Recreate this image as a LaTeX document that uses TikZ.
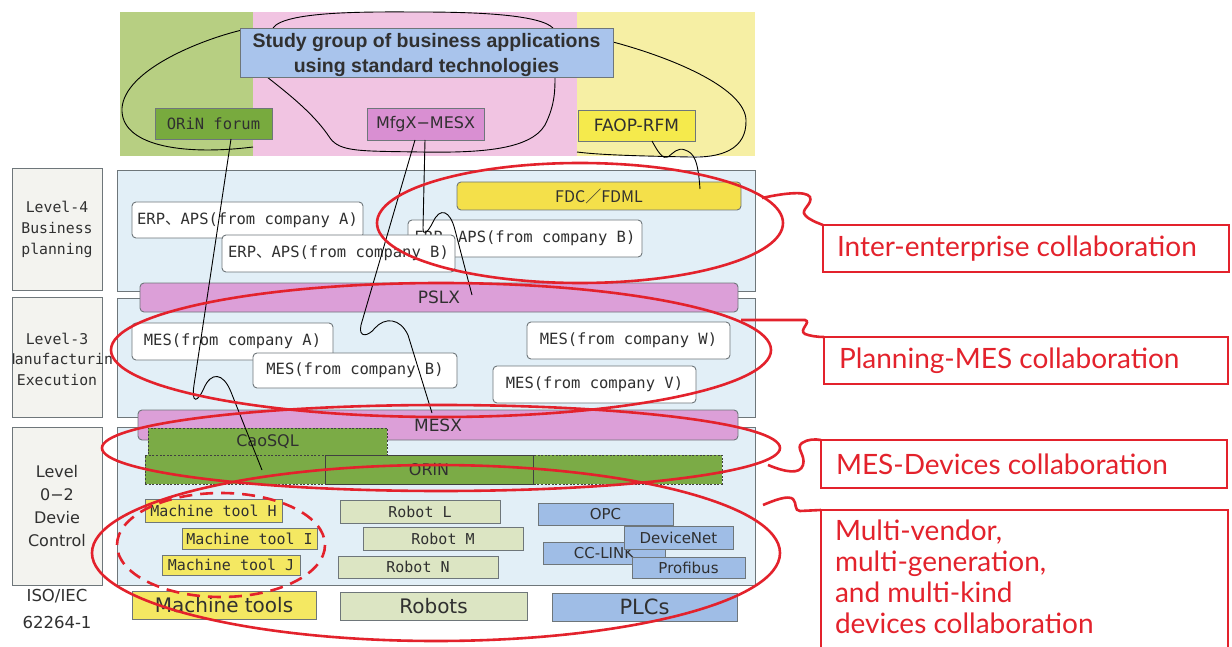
\documentclass[tikz,border=0pt]{standalone}
\usepackage{fontspec}
\setmainfont{DejaVu Sans}
\newfontfamily\gothic{DejaVu Sans}
\newfontfamily\monog{DejaVu Sans Mono}
\newfontfamily\cjk{Noto Sans CJK JP}
\newfontfamily\titlefont{Liberation Sans}
\newfontfamily\notefont{Lato}
\usetikzlibrary{calc}
\newcommand{\setfs}[1]{\fontsize{#1}{#1}\selectfont}

\definecolor{bggreen}{HTML}{B7CF82}
\definecolor{bgpink}{HTML}{F1C4E2}
\definecolor{bgyellow}{HTML}{F6EFA4}
\definecolor{studyblue}{HTML}{A9C4EC}
\definecolor{forumgreen}{HTML}{78AA3E}
\definecolor{mfgpink}{HTML}{D98FD2}
\definecolor{faopyellow}{HTML}{F5EA4C}
\definecolor{panelblue}{HTML}{E2EFF7}
\definecolor{levelgray}{HTML}{F3F3EF}
\definecolor{edgegray}{HTML}{6E767A}
\definecolor{barpink}{HTML}{DC9FD8}
\definecolor{fdcyellow}{HTML}{F4E04A}
\definecolor{oringreen}{HTML}{7BAB46}
\definecolor{toolyellow}{HTML}{F4E862}
\definecolor{robotgreen}{HTML}{DCE5C3}
\definecolor{plcblue}{HTML}{9FBDE6}
\definecolor{txt}{HTML}{303030}
\definecolor{markred}{HTML}{E3222C}

\begin{document}
\begin{tikzpicture}[x=1pt,y=-1pt,
  every node/.style={inner sep=0pt, outer sep=0pt, text=txt},
  plainbox/.style={draw=edgegray, line width=0.9pt},
  roundbox/.style={draw=edgegray, line width=0.9pt, rounded corners=4pt},
  levelbox/.style={plainbox, fill=levelgray},
  panel/.style={plainbox, fill=panelblue},
  appbox/.style={roundbox, fill=white, font=\monog\setfs{15.5}},
  barbox/.style={roundbox, fill=barpink, font=\gothic\setfs{17}},
  greenbus/.style={draw=black!75, line width=0.9pt, dash pattern=on 2pt off 1.6pt, fill=oringreen, font=\gothic\setfs{16}},
  toolbox/.style={plainbox, fill=toolyellow, font=\monog\setfs{15}},
  robotbox/.style={plainbox, fill=robotgreen, font=\monog\setfs{15}},
  plcbox/.style={plainbox, fill=plcblue, font=\gothic\setfs{15}},
  linkline/.style={draw=black, line width=0.9pt},
  redmark/.style={draw=markred, line width=2.6pt},
  callbox/.style={draw=markred, line width=1.4pt},
  calltext/.style={text=markred, font=\notefont\setfs{28}}
]
\useasboundingbox (0,0) rectangle (1232,647);
\fill[white] (0,0) rectangle (1232,647);

% --- standards bodies band ---
\fill[bggreen] (120,12) rectangle (253,156);
\fill[bgpink] (253,12) rectangle (577,156);
\fill[bgyellow] (577,12) rectangle (755,156);

% loops tying the study group to the three bodies
\draw[linkline] (242,30) .. controls (200,40) and (125,70) .. (122,108)
  .. controls (120,145) and (180,156) .. (253,147);
\draw[linkline] (273,28) .. controls (285,10) and (380,12) .. (420,12)
  .. controls (480,12) and (540,15) .. (553,28);
\draw[linkline] (267,77) .. controls (290,95) and (315,115) .. (330,138)
  .. controls (340,152) and (360,151) .. (420,152)
  .. controls (480,153) and (530,150) .. (545,125)
  .. controls (555,105) and (555,90) .. (555,77);
\draw[linkline] (613,42) .. controls (680,60) and (745,90) .. (746,120)
  .. controls (747,150) and (720,158) .. (690,157)
  .. controls (640,156) and (600,155) .. (577,152);

\node[plainbox, fill=studyblue, minimum width=373, minimum height=49] (study) at (426.5,52.5) {};
\node[align=center, font=\titlefont\bfseries\fontsize{19.5}{25}\selectfont] (studytxt) at (426.5,55) {Study group of business applications\\using standard technologies};

\node[plainbox, fill=forumgreen, minimum width=117, minimum height=31, font=\monog\setfs{15.5}] (orinforum) at (213.5,123.5) {ORiN forum};
\node[plainbox, fill=mfgpink, minimum width=117, minimum height=32, font=\gothic\setfs{16}] (mfgx) at (425.5,124) {MfgX−MESX};
\node[plainbox, fill=faopyellow, minimum width=117, minimum height=31, font=\gothic\setfs{17}] (faop) at (636.5,125.5) {FAOP-RFM};

% --- level labels ---
\node[levelbox, minimum width=90, minimum height=122] (lv4) at (57,229) {};
\node[levelbox, minimum width=90, minimum height=120] (lv3) at (57,357) {};
\node[levelbox, minimum width=90, minimum height=158] (lv02) at (57,506) {};
\node[align=center, font=\monog\fontsize{14.8}{21}\selectfont] (lv4txt) at (57,229) {Level-4\\Business\\planning};
\node[font=\monog\setfs{14.8}] (lv3a) at (57,339) {Level-3};
\begin{scope}
  \clip (13,300) rectangle (111,415);
  \node[font=\monog\setfs{14.8}] (lv3b) at (64,360) {Manufacturing};
\end{scope}
\node[font=\monog\setfs{14.8}] (lv3c) at (57,380) {Execution};
\node[align=center, font=\gothic\fontsize{16}{22.7}\selectfont] (lv02txt) at (57,506) {Level\\0−2\\Devie\\Control};
\node[align=center, font=\gothic\fontsize{16.5}{27}\selectfont] (iso) at (57,609) {ISO/IEC\\62264-1};

% --- level panels ---
\node[panel, minimum width=638, minimum height=121] (p4) at (436,230.5) {};
\node[panel, minimum width=638, minimum height=119] (p3) at (436,357.5) {};
\node[panel, minimum width=638, minimum height=158] (p02) at (436,506) {};

% level 4
\node[roundbox, fill=fdcyellow, minimum width=284, minimum height=28, font=\cjk\setfs{16}] (fdc) at (599,196) {FDC／FDML};
\node[appbox, minimum width=234, minimum height=37] (erpc) at (525,238.5) {ERP{\cjk 、}APS(from company B)};
\node[appbox, minimum width=231, minimum height=36] (erpa) at (247.5,220) {ERP{\cjk 、}APS(from company A)};
\node[appbox, minimum width=233, minimum height=37] (erpb) at (338.5,253.5) {ERP{\cjk 、}APS(from company B)};

% bars between levels
\node[barbox, minimum width=598, minimum height=29] (pslx) at (439,297.5) {PSLX};

% level 3
\node[appbox, minimum width=201, minimum height=37] (mesa) at (232.5,341.5) {MES(from company A)};
\node[appbox, minimum width=204, minimum height=35] (mesb) at (355,370.5) {MES(from company B)};
\node[appbox, minimum width=203, minimum height=37] (mesw) at (628.5,340.5) {MES(from company W)};
\node[appbox, minimum width=203, minimum height=37] (mesv) at (594.5,384.5) {MES(from company V)};

\node[barbox, minimum width=600, minimum height=30] (mesx) at (438,425) {MESX};

% level 0-2
\node[greenbus, minimum width=239, minimum height=27] (caosql) at (267.5,441.5) {CaoSQL};
\node[greenbus, minimum width=577, minimum height=29] (orin) at (433.5,469.5) {};
\node[plainbox, draw=black!75, fill=oringreen, minimum width=208, minimum height=29, font=\gothic\setfs{16}] (orinmid) at (429,469.5) {ORiN};

\node[toolbox, minimum width=137, minimum height=23] (mth) at (213.5,510.5) {Machine tool H};
\node[toolbox, minimum width=135, minimum height=21] (mti) at (249.5,538.5) {Machine tool I};
\node[toolbox, minimum width=138, minimum height=20] (mtj) at (231,565) {Machine tool J};
\node[plainbox, fill=toolyellow, minimum width=184, minimum height=28, font=\gothic\setfs{20}] (mtools) at (224,605) {Machine tools};

\node[robotbox, minimum width=160, minimum height=23] (robl) at (420,511.5) {Robot L};
\node[robotbox, minimum width=160, minimum height=23] (robm) at (443,538.5) {Robot M};
\node[robotbox, minimum width=160, minimum height=22] (robn) at (418,567) {Robot N};
\node[plainbox, fill=robotgreen, minimum width=187, minimum height=28, font=\gothic\setfs{20}] (robots) at (433.5,606) {Robots};

\node[plcbox, minimum width=135, minimum height=22] (opc) at (605.5,514) {OPC};
\node[plcbox, minimum width=122, minimum height=22] (cclink) at (604,553) {CC-LINK};
\node[plcbox, minimum width=109, minimum height=23] (devnet) at (678.5,537.5) {DeviceNet};
\node[plcbox, minimum width=113, minimum height=21] (profibus) at (688.5,567.5) {Profibus};
\node[plainbox, fill=plcblue, minimum width=185, minimum height=28, font=\gothic\setfs{21}] (plcs) at (644.5,607) {PLCs};

% --- links from the bodies down to their standards ---
\coordinate (orinend) at (262,470);
\coordinate (mesxend) at (432,413);
\coordinate (pslxend) at (472,295);
\coordinate (fdcend) at (700,189);
\draw[linkline] ($(orinforum.south)+(17.5,0)$) -- (194,385)
  .. controls (191,405) and (198,402) .. (204,388)
  .. controls (211,372) and (223,372) .. (231,392) -- (orinend);
\draw[linkline] ($(mfgx.south)+(-10.5,0)$) -- (361,325)
  .. controls (358,338) and (368,337) .. (375,328)
  .. controls (385,317) and (400,318) .. (408,335) -- (mesxend);
\draw[linkline] ($(mfgx.south)+(-0.5,0)$) -- (423,228)
  .. controls (423,237) and (428,232) .. (433,222)
  .. controls (440,207) and (450,210) .. (455,230) -- (pslxend);
\draw[linkline] ($(faop.south)+(15.5,0)$) .. controls (658,152) and (663,160) .. (668,157)
  .. controls (673,153) and (678,147) .. (685,150)
  .. controls (694,153) and (698,160) .. (fdcend);

% --- collaboration scopes ---
\draw[redmark] (580,223) ellipse [x radius=203, y radius=60];
\draw[redmark] (441,350) ellipse [x radius=330, y radius=67];
\draw[redmark] (441,448) ellipse [x radius=339, y radius=43];
\draw[redmark] (436,553) ellipse [x radius=344, y radius=88];
\draw[redmark, dash pattern=on 13pt off 8pt] (221,545) ellipse [x radius=104, y radius=52];

\node[callbox, anchor=north west, minimum width=406, minimum height=47] (inter) at (823,225) {};
\node[calltext, anchor=west] (intertxt) at (837,249) {Inter-enterprise collaboration};
\node[callbox, anchor=north west, minimum width=404, minimum height=47] (plan) at (824,337) {};
\node[calltext, anchor=west] (plantxt) at (839,361) {Planning-MES collaboration};
\node[callbox, anchor=north west, minimum width=406, minimum height=48] (mesdev) at (821,440) {};
\node[calltext, anchor=west] (mesdevtxt) at (836,464) {MES-Devices collaboration};
\node[callbox, anchor=north west, minimum width=407, minimum height=160] (multi) at (821,510) {};
\node[calltext, anchor=north west, align=left, font=\notefont\fontsize{28}{31}\selectfont] (multitxt) at (835,520) {Multi-vendor,\\multi-generation,\\and multi-kind\\devices collaboration};

\draw[redmark] (762,198) .. controls (780,194) and (806,190) .. (810,197)
  .. controls (813,204) and (800,210) .. (805,215)
  .. controls (809,220) and (818,223) .. (inter.north west);
\draw[redmark] (741,320) -- (805,320)
  .. controls (812,322) and (798,330) .. (805,334)
  .. controls (810,336) and (818,337) .. (plan.north west);
\draw[redmark] (768,465) .. controls (785,472) and (800,475) .. (803,465)
  .. controls (806,455) and (795,448) .. (802,443)
  .. controls (808,439) and (815,439) .. (mesdev.north west);
\draw[redmark] (763,505) .. controls (775,500) and (788,495) .. (793,499)
  .. controls (797,503) and (794,511) .. (800,511) -- (multi.north west);
\end{tikzpicture}
\end{document}
